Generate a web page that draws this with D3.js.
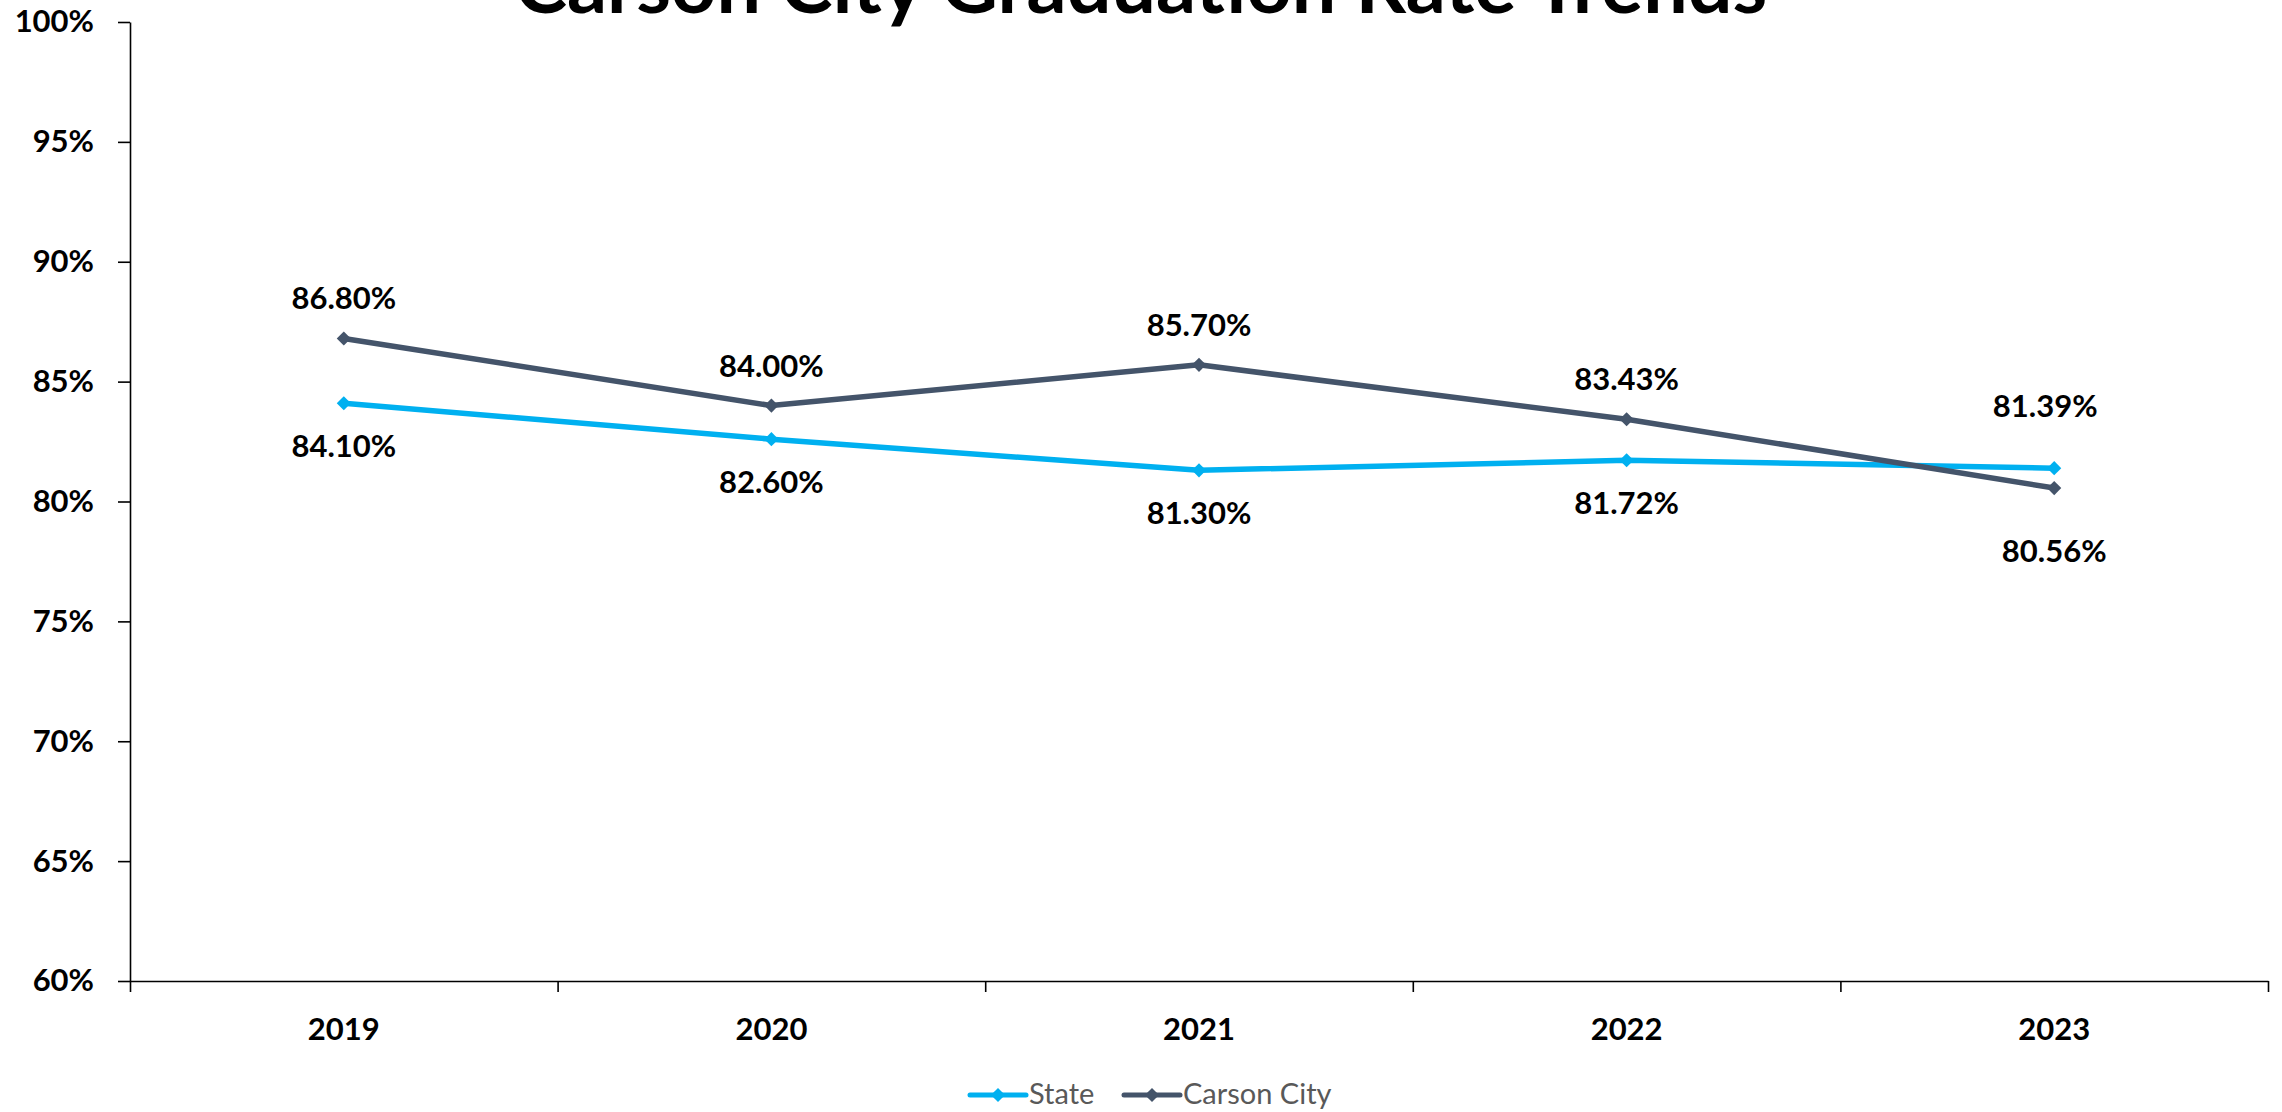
<!DOCTYPE html>
<html>
<head>
<meta charset="utf-8">
<script src="https://cdn.jsdelivr.net/npm/d3@7"></script>
<style>
	body { margin: 0; background: #fff; }
	svg { display: block; font-family: Lato, "Noto Sans", sans-serif; }
</style>
</head>
<body>
<svg id="svg_main" width="2282" height="1112"></svg>
<script>
var years = ["2019", "2020", "2021", "2022", "2023"];
var state = [84.10, 82.60, 81.30, 81.72, 81.39];
var carson = [86.80, 84.00, 85.70, 83.43, 80.56];
var yTicks = [60, 65, 70, 75, 80, 85, 90, 95, 100];

var series = [
	{ name: "State", values: state, color: "#00B0F0", place: ["below", "below", "below", "below", "above"] },
	{ name: "Carson City", values: carson, color: "#44546A", place: ["above", "above", "above", "above", "below"] }
];

var margin = { top: 22, left: 130, right: 14, bottom: 131 };

function main() {
	var svg = d3.select("#svg_main");
	var W = +svg.attr("width"), H = +svg.attr("height");
	var width = W - margin.left - margin.right,
		height = H - margin.top - margin.bottom;

	// title, cut off at the top like the source
	svg.append("text")
		.attr("x", W / 2)
		.attr("y", 13)
		.attr("text-anchor", "middle")
		.attr("font-size", "79px")
		.attr("font-weight", "bold")
		.attr("fill", "#000")
		.text("Carson City Graduation Rate Trends");

	var g = svg.append("g")
		.attr("transform", `translate(${margin.left}, ${margin.top})`);

	var x = d3.scaleBand().range([0, width]).domain(years),
		xEdge = d3.scaleLinear().range([0, width]).domain([0, years.length]),
		y = d3.scaleLinear().range([height, 0]).domain([60, 100]);

	g.append("g")
		.attr("class", "yAxis")
		.call(d3.axisLeft(y).tickValues(yTicks).tickFormat(d => d + "%")
			.tickSize(12).tickSizeOuter(0).tickPadding(24));

	g.append("g")
		.attr("transform", `translate(0, ${height})`)
		.call(d3.axisBottom(xEdge).tickValues(d3.range(years.length + 1))
			.tickFormat("").tickSize(11).tickSizeOuter(0));

	var xAxis = g.append("g")
		.attr("class", "xAxis")
		.attr("transform", `translate(0, ${height})`)
		.call(d3.axisBottom(x).tickSize(0).tickPadding(37));
	xAxis.select(".domain").remove();

	g.selectAll(".domain, .tick line")
		.attr("stroke", "#000")
		.attr("stroke-width", 1.6);
	g.selectAll(".tick text")
		.attr("font-family", "Lato")
		.attr("font-size", "31px")
		.attr("font-weight", "bold")
		.attr("fill", "#000");

	var line = d3.line()
		.x((d, i) => x(years[i]) + x.bandwidth() / 2)
		.y(d => y(d));
	var diamond = d3.symbol().type(d3.symbolSquare).size(100);

	for (let s of series) {
		g.append("path")
			.attr("d", line(s.values))
			.attr("fill", "none")
			.attr("stroke", s.color)
			.attr("stroke-width", 5.5)
			.attr("stroke-linejoin", "round");
		g.selectAll(null)
			.data(s.values)
			.enter().append("path")
			.attr("d", diamond)
			.attr("fill", s.color)
			.attr("transform", (d, i) => `translate(${x(years[i]) + x.bandwidth() / 2}, ${y(d)}) rotate(45)`);
	}

	// data labels; the last year's labels sit further out, as in the source
	for (let s of series) {
		g.selectAll(null)
			.data(s.values)
			.enter().append("text")
			.attr("x", (d, i) => x(years[i]) + x.bandwidth() / 2 + (i == 4 && s.place[i] == "above" ? -9 : 0))
			.attr("y", (d, i) => {
				let last = i == years.length - 1;
				if (s.place[i] == "above") return y(d) - (last ? 51 : 29);
				return y(d) + (last ? 74 : 54);
			})
			.attr("text-anchor", "middle")
			.attr("font-size", "31px")
			.attr("font-weight", "bold")
			.attr("fill", "#000")
			.text(d => d.toFixed(2) + "%");
	}

	// legend
	var legend = svg.append("g").attr("class", "legend");
	var lx = [970, 1124];
	series.forEach((s, i) => {
		let item = legend.append("g").attr("transform", `translate(${lx[i]}, 1095)`);
		item.append("line")
			.attr("x1", 0).attr("x2", 56)
			.attr("stroke", s.color)
			.attr("stroke-width", 5)
			.attr("stroke-linecap", "round");
		item.append("path")
			.attr("d", diamond)
			.attr("fill", s.color)
			.attr("transform", "translate(28, 0) rotate(45)");
		item.append("text")
			.attr("x", 59)
			.attr("y", 9)
			.attr("font-size", "29px")
			.attr("fill", "#595959")
			.text(s.name);
	});
}

main();
</script>
</body>
</html>
